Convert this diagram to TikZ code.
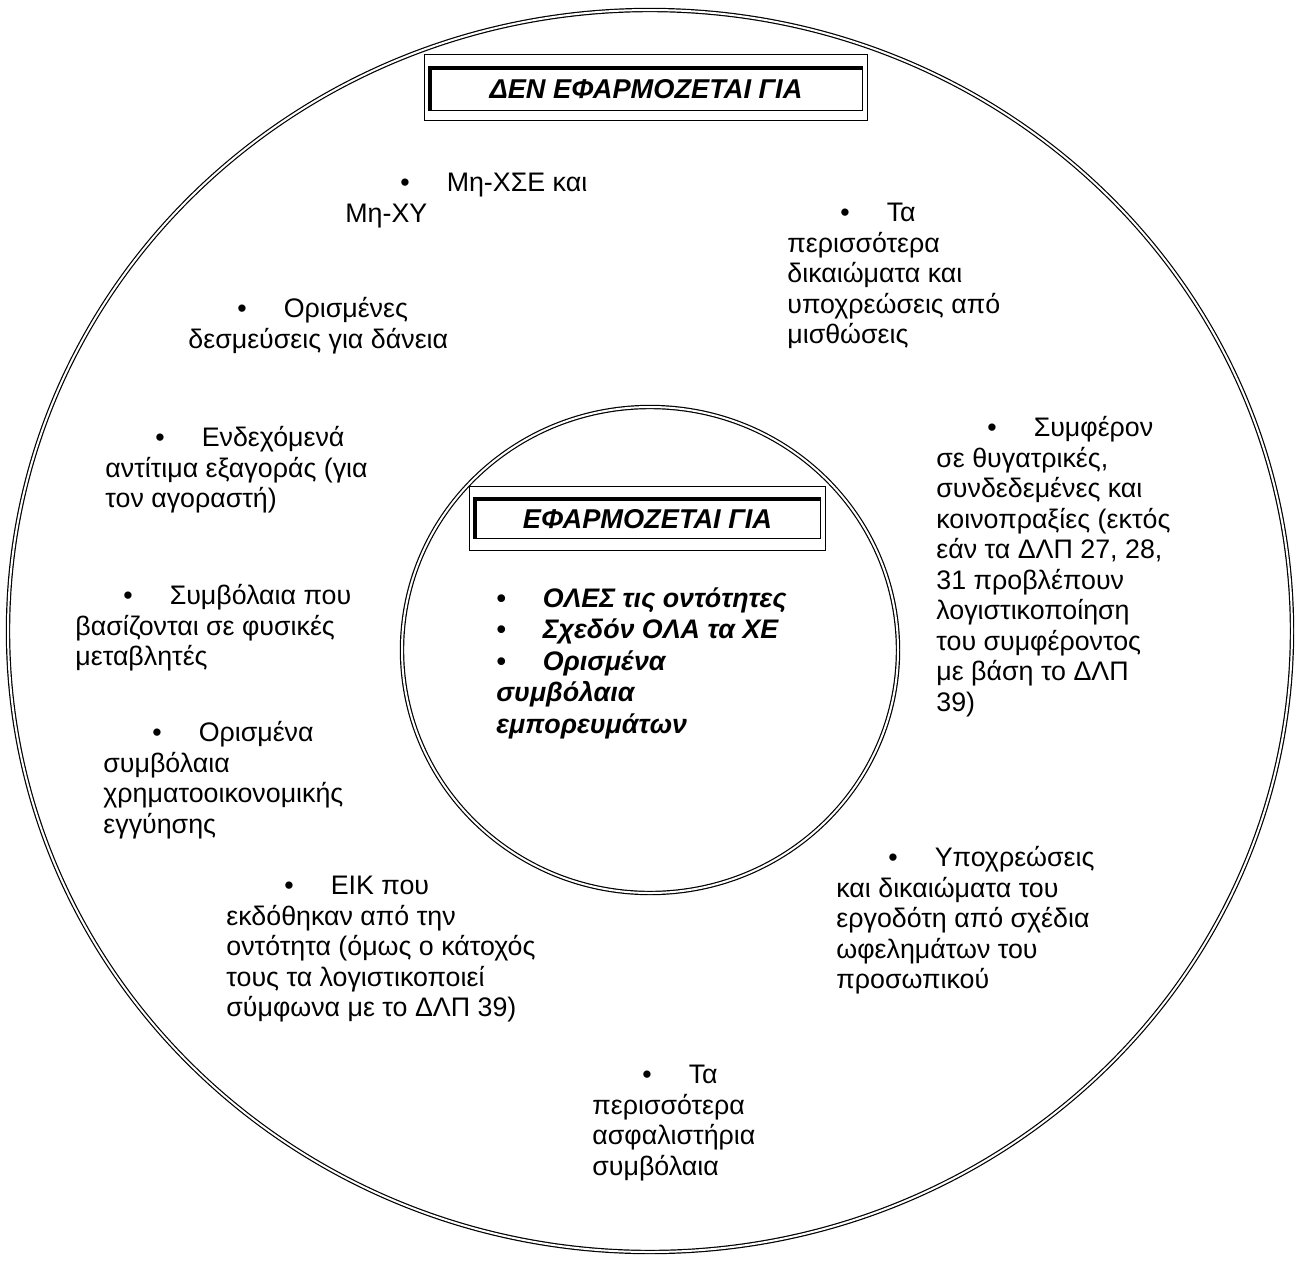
\documentclass[tikz,border=0pt]{standalone}
\usepackage{fontspec}
\setmainfont{Liberation Sans}
\usetikzlibrary{calc}

\newcommand{\bul}[1]{\strut\hspace*{#1}\textbullet\hspace{18.5pt}}

\begin{document}
\begin{tikzpicture}[x=0.5pt, y=-0.5pt,
    ring/.style={draw, double, line width=0.6pt, double distance=1pt},
    entry/.style={anchor=north west, align=left, inner sep=0pt, font=\fontsize{13.4}{15.25}\selectfont},
    inentry/.style={entry, font=\fontsize{13.4}{15.75}\selectfont\bfseries\itshape},
    headbox/.style={draw, line width=0.5pt, inner sep=0pt, font=\fontsize{13.6}{14}\selectfont\bfseries\itshape}
  ]
    \useasboundingbox (0,0) rectangle (1297,1260);

    % Rings
    \draw[ring] (650,631) ellipse [x radius=642, y radius=621];
    \draw[ring] (650,650) ellipse [x radius=248, y radius=243];

    % Heading of the outer ring
    \node[headbox, minimum width=216pt, minimum height=21pt] (notfor) at (646,89) {ΔΕΝ ΕΦΑΡΜΟΖΕΤΑΙ ΓΙΑ};
    \draw[line width=0.5pt] ($(notfor.north west)+(-5,-13)$) rectangle ($(notfor.south east)+(5,10)$);
    \draw[line width=2pt] (notfor.south west) -- (notfor.north west) -- (notfor.north east);

    % Heading of the inner ring
    \node[headbox, minimum width=172.5pt, minimum height=19.5pt] (appliesto) at (647.5,519) {ΕΦΑΡΜΟΖΕΤΑΙ ΓΙΑ};
    \draw[line width=0.5pt] ($(appliesto.north west)+(-5,-13)$) rectangle ($(appliesto.south east)+(5,11)$);
    \draw[line width=2pt] (appliesto.south west) -- (appliesto.north west) -- (appliesto.north east);

    % Items outside the scope
    \node[entry] (nonfin) at (345,170) {\bul{27.5pt}Μη-ΧΣΕ και\\Μη-ΧΥ};
    \node[entry] (loans) at (188,296) {\bul{24.5pt}Ορισμένες\\δεσμεύσεις για δάνεια};
    \node[entry] (contingent) at (105,425) {\bul{25pt}Ενδεχόμενά\\αντίτιμα εξαγοράς (για\\τον αγοραστή)};
    \node[entry] (physical) at (75,583) {\bul{24pt}Συμβόλαια που\\βασίζονται σε φυσικές\\μεταβλητές};
    \node[entry] (guarantee) at (103,720) {\bul{24.5pt}Ορισμένα\\συμβόλαια\\χρηματοοικονομικής\\εγγύησης};
    \node[entry] (ownequity) at (226,873) {\bul{29pt}ΕΙΚ που\\εκδόθηκαν από την\\οντότητα (όμως ο κάτοχός\\τους τα λογιστικοποιεί\\σύμφωνα με το ΔΛΠ 39)};
    \node[entry] (insurance) at (592,1062) {\bul{25pt}Τα\\περισσότερα\\ασφαλιστήρια\\συμβόλαια};
    \node[entry] (staff) at (836,845) {\bul{26pt}Υποχρεώσεις\\και δικαιώματα του\\εργοδότη από σχέδια\\ωφελημάτων του\\προσωπικού};
    \node[entry] (subsid) at (936,415) {\bul{25.5pt}Συμφέρον\\σε θυγατρικές,\\συνδεδεμένες και\\κοινοπραξίες (εκτός\\εάν τα ΔΛΠ 27, 28,\\31 προβλέπουν\\λογιστικοποίηση\\του συμφέροντος\\με βάση το ΔΛΠ\\39)};
    \node[entry] (leases) at (787,200) {\bul{26.5pt}Τα\\περισσότερα\\δικαιώματα και\\υποχρεώσεις από\\μισθώσεις};

    % Items inside the scope
    \node[inentry] (inscope) at (496,585) {\bul{0pt}ΟΛΕΣ τις οντότητες\\\bul{0pt}Σχεδόν ΟΛΑ τα ΧΕ\\\bul{0pt}Ορισμένα\\συμβόλαια\\εμπορευμάτων};
\end{tikzpicture}
\end{document}
